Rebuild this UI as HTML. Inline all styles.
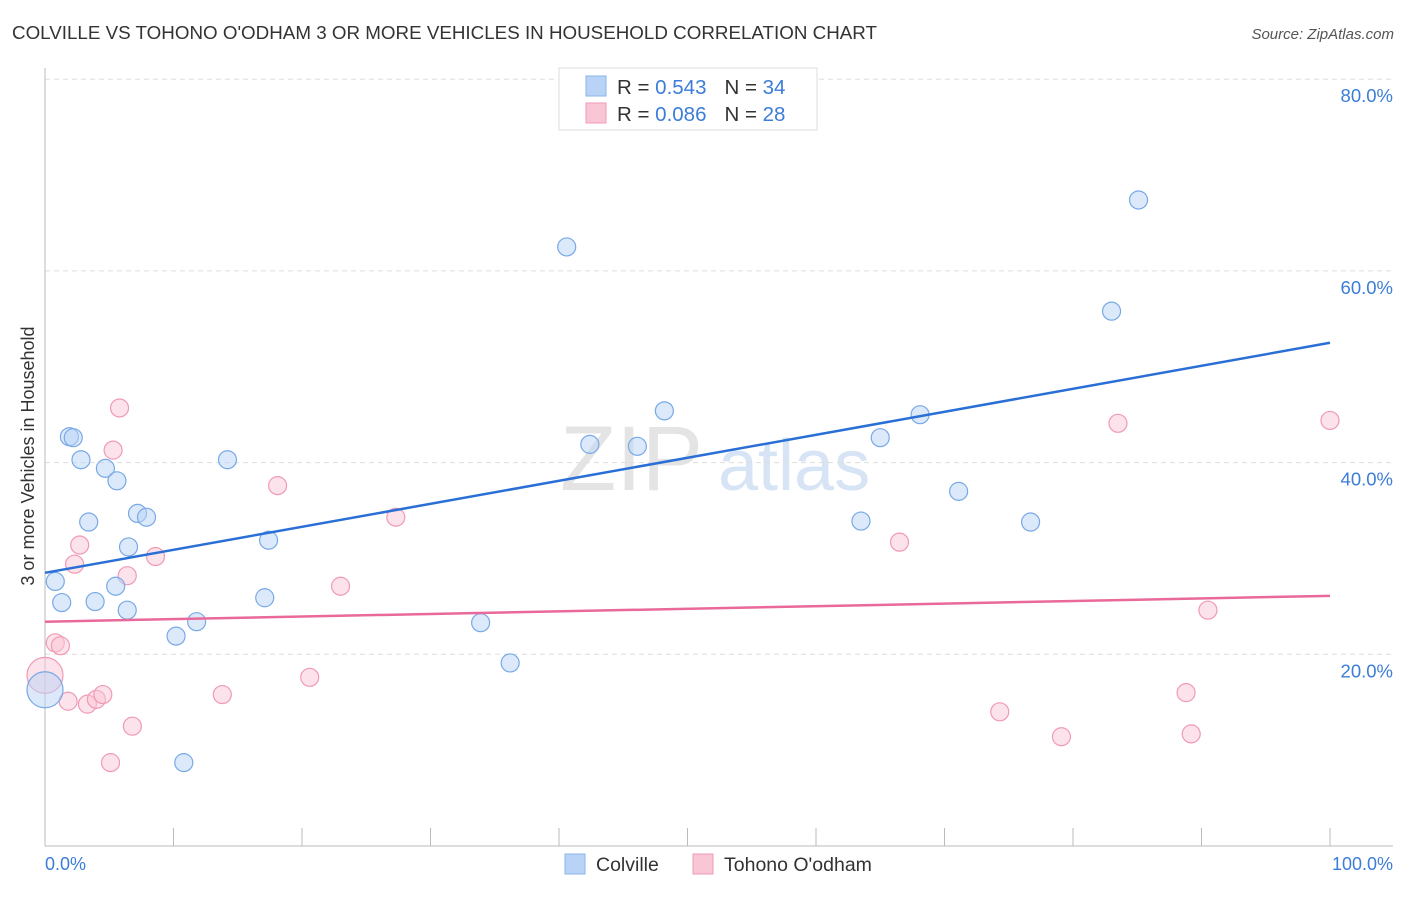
<!DOCTYPE html>
<html><head><meta charset="utf-8"><style>
body{margin:0;background:#fff;font-family:"Liberation Sans",sans-serif}
svg text{font-family:"Liberation Sans",sans-serif}
</style></head><body>
<svg id="c" width="1406" height="892" xmlns="http://www.w3.org/2000/svg">
<text x="12" y="39" font-size="18" fill="#333" textLength="865" lengthAdjust="spacingAndGlyphs">COLVILLE VS TOHONO O'ODHAM 3 OR MORE VEHICLES IN HOUSEHOLD CORRELATION CHART</text>
<text x="1394" y="39" font-size="15" fill="#555" font-style="italic" text-anchor="end">Source: ZipAtlas.com</text>
<text x="560" y="490" font-size="92" fill="#e4e4e4" font-family="Liberation Serif">ZIP</text>
<text x="718" y="490" font-size="72" fill="#d6e4f5">atlas</text>
<g id="grid"></g><g id="axes"></g><g id="pts"></g><g id="trend"></g>
<text transform="translate(34,456) rotate(-90)" font-size="18" fill="#333" text-anchor="middle">3 or more Vehicles in Household</text>
<text x="45" y="870" font-size="18" fill="#3b7dd8">0.0%</text>
<text x="1393" y="870" font-size="18" fill="#3b7dd8" text-anchor="end">100.0%</text>
<g>
<rect x="559" y="68" width="258" height="62" fill="#fff" stroke="#ddd"/>
<rect x="586" y="76" width="20" height="20" fill="#b8d3f5" stroke="#8ab4ea"/>
<rect x="586" y="103" width="20" height="20" fill="#f9c6d5" stroke="#f09ab4"/>
<text x="617" y="94" font-size="20.5" fill="#333">R = <tspan fill="#3b7dd8">0.543</tspan><tspan dx="18">N = </tspan><tspan fill="#3b7dd8">34</tspan></text>
<text x="617" y="121" font-size="20.5" fill="#333">R = <tspan fill="#3b7dd8">0.086</tspan><tspan dx="18">N = </tspan><tspan fill="#3b7dd8">28</tspan></text>
</g>
<g>
<rect x="565" y="854" width="20" height="20" fill="#b8d3f5" stroke="#8ab4ea"/>
<text x="596" y="871" font-size="19.5" fill="#333">Colville</text>
<rect x="693" y="854" width="20" height="20" fill="#f9c6d5" stroke="#f09ab4"/>
<text x="724" y="871" font-size="19.5" fill="#333">Tohono O'odham</text>
</g>
</svg>
<script>
const yTicks=[20,40,60,80];
const blueX=[0,0.8,1.3,1.9,2.2,2.8,3.4,3.9,4.7,5.6,5.5,6.4,6.5,7.2,7.9,10.2,10.8,11.8,14.2,17.1,17.4,33.9,36.2,40.6,42.4,46.1,48.2,63.5,65.0,68.1,71.1,76.7,83.0,85.1];
const blueY=[16.3,27.6,25.4,42.7,42.6,40.3,33.8,25.5,39.4,38.1,27.1,24.6,31.2,34.7,34.3,21.9,8.7,23.4,40.3,25.9,31.9,23.3,19.1,62.5,41.9,41.7,45.4,33.9,42.6,45.0,37.0,33.8,55.8,67.4];
const pinkX=[0,0.8,1.2,1.8,2.3,2.7,3.3,4.0,4.5,5.1,5.8,5.3,6.4,6.8,8.6,13.8,18.1,20.6,23.0,27.3,66.5,74.3,79.1,83.5,88.8,89.2,90.5,100];
const pinkY=[17.8,21.2,20.9,15.1,29.4,31.4,14.8,15.3,15.8,8.7,45.7,41.3,28.2,12.5,30.2,15.8,37.6,17.6,27.1,34.3,31.7,14.0,11.4,44.1,16.0,11.7,24.6,44.4];
const blueTrend=[28.5,52.5];
const pinkTrend=[23.4,26.1];
const X=v=>45+v*12.85, Y=v=>846-v*9.585;
const NS='http://www.w3.org/2000/svg';
function mk(t,a,p){const e=document.createElementNS(NS,t);for(const k in a)e.setAttribute(k,a[k]);p.appendChild(e);return e;}
const grid=document.getElementById('grid'),axes=document.getElementById('axes'),pts=document.getElementById('pts'),tr=document.getElementById('trend');
yTicks.forEach(t=>{
 const l=mk('line',{x1:45,x2:1393,y1:Y(t),y2:Y(t),stroke:'#ddd','stroke-dasharray':'5,4'},grid);
 
 
 const tx=mk('text',{x:1393,y:Y(t)+23,'font-size':18.5,fill:'#3b7dd8','text-anchor':'end'},grid);
 tx.textContent=t.toFixed(1)+'%';
 
 
});
let a=mk('line',{x1:45,x2:45,y1:68,y2:846,stroke:'#bbb'},axes);


a=mk('line',{x1:45,x2:1393,y1:846,y2:846,stroke:'#bbb'},axes);


for(let i=1;i<=10;i++){const t=mk('line',{x1:X(i*10),x2:X(i*10),y1:828,y2:846,stroke:'#bbb'},axes);
 
 }
function dots(xs,ys,fill,stroke,name){xs.forEach((x,i)=>{
 const r=(x===0)?18:9;
 const c=mk('circle',{cx:X(x),cy:Y(ys[i]),r:r,fill:fill,'fill-opacity':0.5,stroke:stroke,'stroke-width':1.2},pts);
 
 
});}
dots(pinkX,pinkY,'#f9c6d5','#f09ab4','tohono-point');
dots(blueX,blueY,'#b8d3f5','#78a9e6','colville-point');
let l=mk('line',{x1:X(0),x2:X(100),y1:Y(blueTrend[0]),y2:Y(blueTrend[1]),stroke:'#2a6fd6','stroke-width':2.5},tr);


l=mk('line',{x1:X(0),x2:X(100),y1:Y(pinkTrend[0]),y2:Y(pinkTrend[1]),stroke:'#e8699a','stroke-width':2.5},tr);


</script>
</body></html>
